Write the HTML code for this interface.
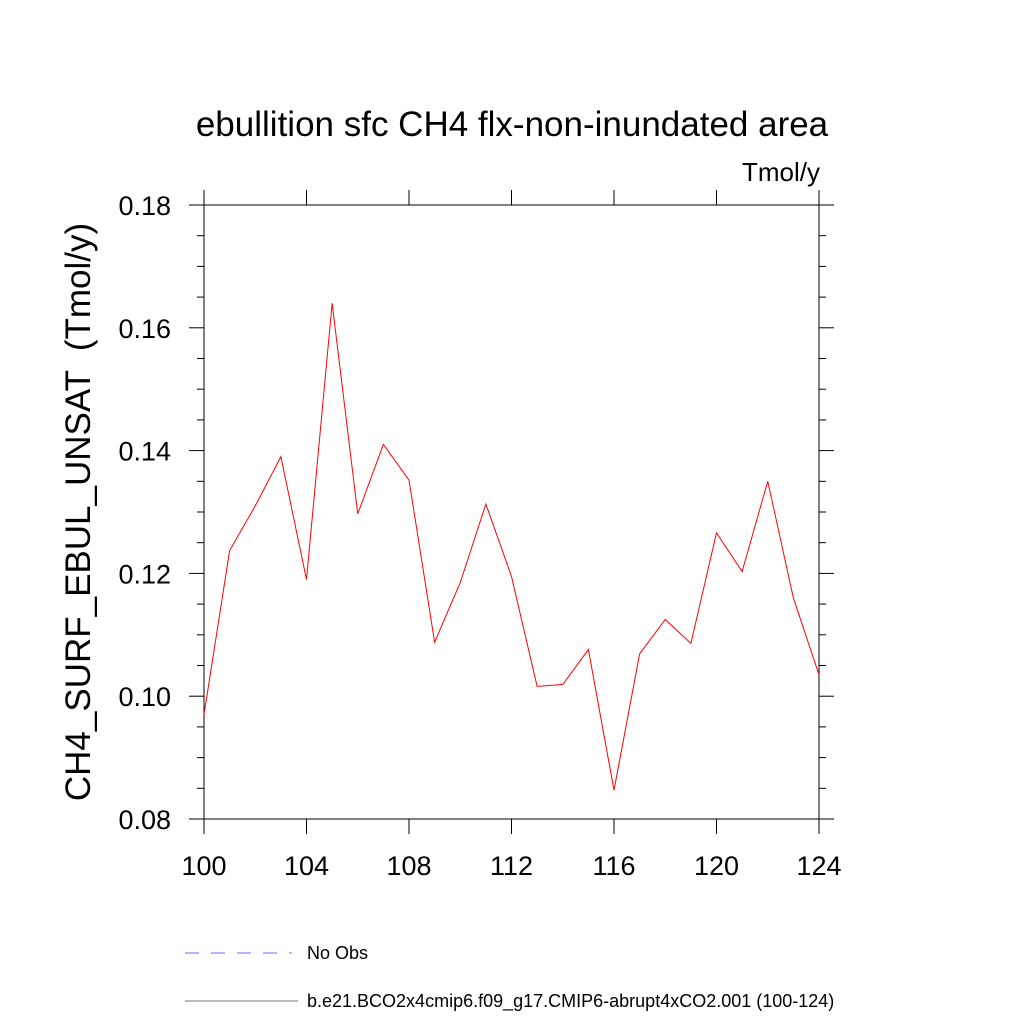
<!DOCTYPE html>
<html><head><meta charset="utf-8"><style>
body{margin:0;background:#fff}
svg{display:block;font-family:"Liberation Sans",sans-serif}
</style></head><body>
<svg id="chart" width="1024" height="1024" viewBox="0 0 1024 1024">
<text x="512" y="136" font-size="35" text-anchor="middle">ebullition sfc CH4 flx-non-inundated area</text>
<text x="820" y="181" font-size="26" text-anchor="end">Tmol/y</text>
<text transform="translate(90,512) rotate(-90)" font-size="35" text-anchor="middle" xml:space="preserve" style="white-space:pre">CH4_SURF_EBUL_UNSAT  (Tmol/y)</text>
<g id="axes"></g>
<polyline id="series" fill="none" stroke="#ff0000" stroke-width="1"/>
<line x1="185" y1="953" x2="292" y2="953" stroke="#6a6aff" stroke-width="1" stroke-dasharray="14,12"/>
<text x="307" y="959" font-size="18">No Obs</text>
<line x1="185" y1="1001" x2="298" y2="1001" stroke="#777" stroke-width="1"/>
<text x="307" y="1007" font-size="18">b.e21.BCO2x4cmip6.f09_g17.CMIP6-abrupt4xCO2.001 (100-124)</text>
</svg>
<script>
const years=[100,101,102,103,104,105,106,107,108,109,110,111,112,113,114,115,116,117,118,119,120,121,122,123,124];
const values=[0.097,0.1237,0.131,0.139,0.119,0.164,0.1297,0.141,0.1352,0.1088,0.1185,0.1313,0.1195,0.1016,0.1019,0.1076,0.0847,0.1069,0.1125,0.1086,0.1266,0.1203,0.1350,0.1160,0.1035];
const xTicks=[100,104,108,112,116,120,124];
const yTicks=[0.08,0.10,0.12,0.14,0.16,0.18];
const yTickLabels=["0.08","0.10","0.12","0.14","0.16","0.18"];
const L=204,R=819,T=205,B=819,xmin=100,xmax=124,ymin=0.08,ymax=0.18;
function sx(v){return L+(v-xmin)/(xmax-xmin)*(R-L);}
function sy(v){return B-(v-ymin)/(ymax-ymin)*(B-T);}
const NS="http://www.w3.org/2000/svg";
const g=document.getElementById('axes');
function ln(x1,y1,x2,y2,name){const e=document.createElementNS(NS,'line');
e.setAttribute('x1',x1);e.setAttribute('y1',y1);e.setAttribute('x2',x2);e.setAttribute('y2',y2);
e.setAttribute('stroke','#000');e.setAttribute('stroke-width','1');


g.appendChild(e);}
function tx(x,y,s,anchor,name){const e=document.createElementNS(NS,'text');
e.setAttribute('x',x);e.setAttribute('y',y);e.setAttribute('font-size','27');e.setAttribute('text-anchor',anchor);e.textContent=s;


g.appendChild(e);}
ln(L,T,R,T,'plot-frame-top');ln(L,B,R,B,'plot-frame-bottom');ln(L,T,L,B,'plot-frame-left');ln(R,T,R,B,'plot-frame-right');
xTicks.forEach(v=>{const x=sx(v);ln(x,B,x,B+15,'x-tick');ln(x,T,x,T-15,'x-tick-top');tx(x,875,String(v),'middle','x-tick-label');});
yTicks.forEach((v,i)=>{const y=sy(v);ln(L,y,L-15,y,'y-tick');ln(R,y,R+15,y,'y-tick-right');tx(171,y+10,yTickLabels[i],'end','y-tick-label');});
for(let k=1;k<20;k++){const v=ymin+k*0.005;if(k%4===0)continue;const y=sy(v);ln(L,y,L-7,y,'y-minor-tick');ln(R,y,R+7,y,'y-minor-tick-right');}
document.getElementById('series').setAttribute('points',years.map((yr,i)=>sx(yr)+','+sy(values[i])).join(' '));
</script>
</body></html>
